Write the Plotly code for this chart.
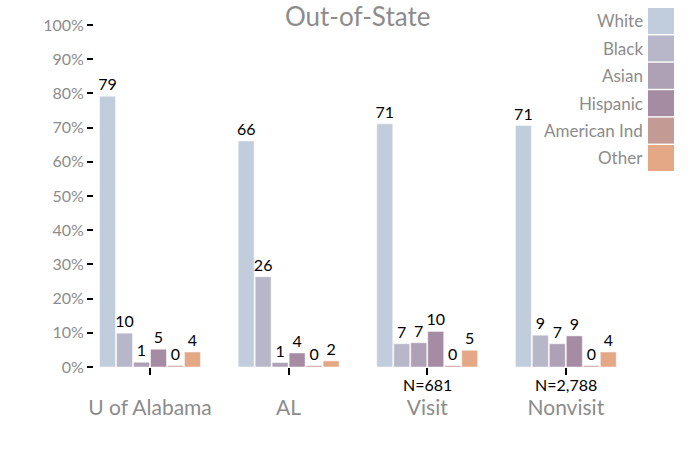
import plotly.graph_objects as go

groups = ["U of Alabama", "AL", "Visit", "Nonvisit"]
n_labels = ["", "", "N=681", "N=2,788"]
series = ["White", "Black", "Asian", "Hispanic", "American Ind", "Other"]
white = [79.2, 66.1, 71.1, 70.6]
black = [9.9, 26.4, 6.8, 9.3]
asian = [1.4, 1.3, 7.1, 6.8]
hispanic = [5.2, 4.1, 10.4, 9.1]
american_ind = [0.4, 0.4, 0.4, 0.4]
other = [4.4, 1.8, 4.9, 4.4]
values = [white, black, asian, hispanic, american_ind, other]
colors = ["#c1ccdc", "#b8b7c9", "#afa1b5", "#a58ca3", "#c49a94", "#e4a887"]
yticks = list(range(0, 101, 10))
yticklabels = [f"{v}%" for v in yticks]

FONT = "Lato"
GRAY = "#8c8c8c"

fig = go.Figure()
for name, vals, col in zip(series, values, colors):
    fig.add_trace(go.Bar(
        x=list(range(len(groups))), y=vals, name=name,
        marker=dict(color=col, line=dict(color="white", width=0.5)),
        texttemplate="%{y:.0f}", textposition="outside", constraintext="none",
        textfont=dict(family=FONT, size=16, color="black"),
        cliponaxis=False, showlegend=False,
    ))

L, R, T, B = 94, 640, 25, 367
W, H = R - L, B - T

# manual legend (swatch to the right of the text)
sw_top, step, sw = 8, 27.4, 26
for i, (name, col) in enumerate(zip(series, colors)):
    y0 = sw_top + i * step
    fig.add_shape(type="rect", xref="paper", yref="paper",
                  x0=(648 - L) / W, x1=(674 - L) / W,
                  y0=(B - (y0 + sw)) / H, y1=(B - y0) / H,
                  fillcolor=col, line=dict(width=0))
    fig.add_annotation(xref="paper", yref="paper",
                       x=(645 - L) / W, y=(B - (y0 + sw / 2)) / H,
                       text=name, showarrow=False, xanchor="right", yanchor="middle",
                       font=dict(family=FONT, size=17, color=GRAY))

for i, lab in enumerate(n_labels):
    if lab:
        fig.add_annotation(x=i, y=0, yref="y", text=lab, showarrow=False,
                           yanchor="top", yshift=-6,
                           font=dict(family=FONT, size=16, color="black"))

fig.update_layout(
    width=700, height=450,
    margin=dict(l=L, r=700 - R, t=T, b=450 - B, autoexpand=False),
    plot_bgcolor="white", paper_bgcolor="white",
    barmode="group", bargap=0.265, bargroupgap=0.06,
    title=dict(text="Out-of-State", x=0.511, xanchor="center", xref="container",
               y=1 - 17 / 450, yanchor="middle",
               font=dict(family=FONT, size=26, color=GRAY)),
    xaxis=dict(tickmode="array", tickvals=list(range(len(groups))), ticktext=groups,
               range=[-0.404, 3.535], showgrid=False, zeroline=False, showline=False,
               ticks="outside", ticklen=7, tickwidth=2, tickcolor="black",
               ticklabelstandoff=15,
               tickfont=dict(family=FONT, size=21, color=GRAY)),
    yaxis=dict(range=[0, 100], tickmode="array", tickvals=yticks, ticktext=yticklabels,
               showgrid=False, zeroline=False, showline=False,
               ticks="outside", ticklen=6, tickwidth=2, tickcolor="black",
               tickfont=dict(family=FONT, size=16, color=GRAY)),
)

fig.write_html("out.html", post_script="document.body.style.margin='0';",
               config={"displayModeBar": False})
